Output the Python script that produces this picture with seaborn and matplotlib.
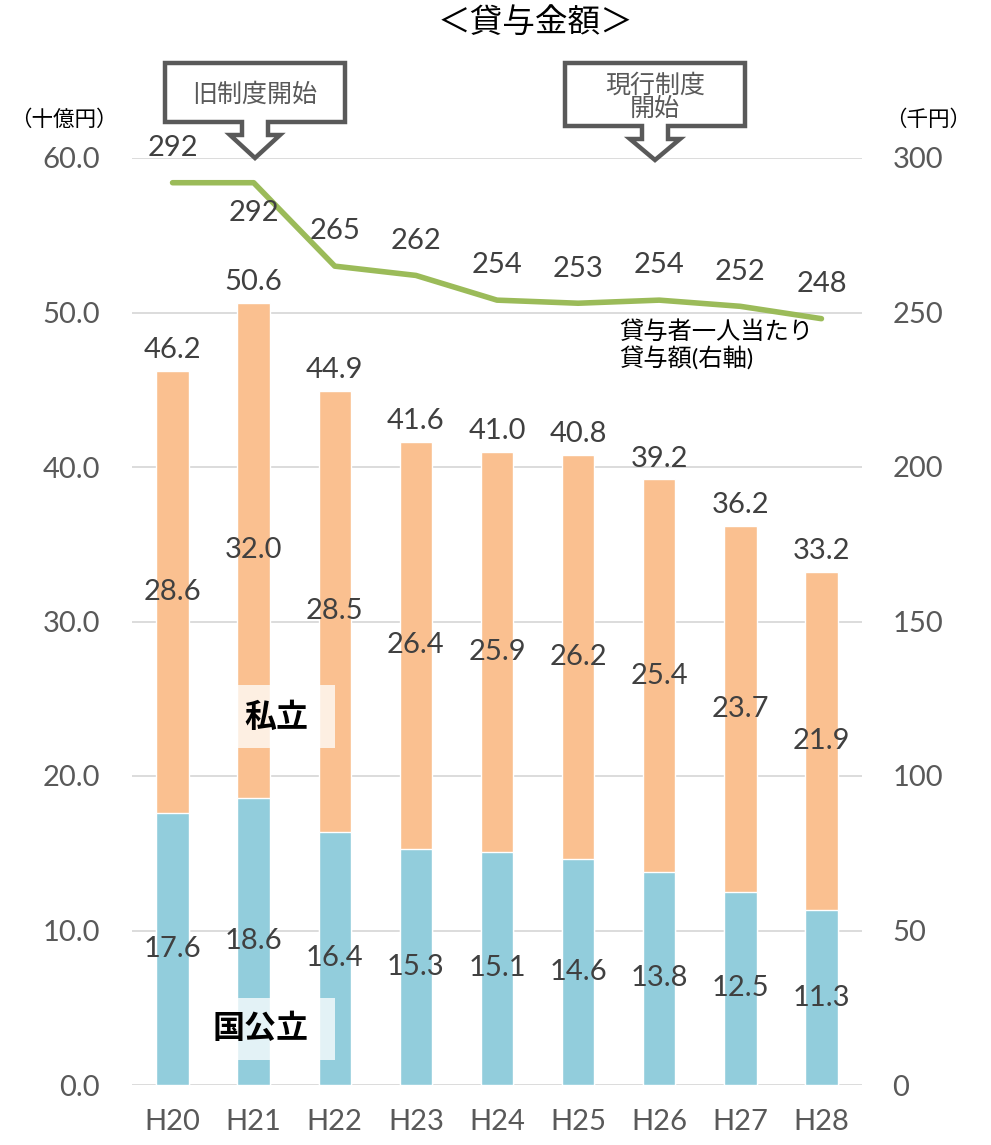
import numpy as np
import pandas as pd
import matplotlib.pyplot as plt
import seaborn as sns
from matplotlib.patches import Polygon, Rectangle

# ----------------------------------------------------------
# Data (billion yen / thousand yen)
# ----------------------------------------------------------
years = ["H20", "H21", "H22", "H23", "H24", "H25", "H26", "H27", "H28"]
national = [17.6, 18.6, 16.4, 15.3, 15.1, 14.6, 13.8, 12.5, 11.3]
private = [28.6, 32.0, 28.5, 26.4, 25.9, 26.2, 25.4, 23.7, 21.9]
totals = [46.2, 50.6, 44.9, 41.6, 41.0, 40.8, 39.2, 36.2, 33.2]
per_person = [292, 292, 265, 262, 254, 253, 254, 252, 248]

df = pd.DataFrame({"year": years, "national": national,
                   "private": private, "total": totals, "per_person": per_person})

BLUE = "#92CDDC"
PEACH = "#FAC090"
GREEN = "#9BBB59"
TXT = "#404040"
TICK = "#595959"
FS = 21

sns.set_theme(style="white")
plt.rcParams["font.family"] = ["Lato", "Noto Sans CJK JP", "DejaVu Sans"]

W, H = 991, 1145
fig = plt.figure(figsize=(W / 100, H / 100), dpi=100)
ax = fig.add_axes([132 / W, 60 / H, 730 / W, 927 / H])


def px(x, y):
    return (x / W, 1 - y / H)


# ----------------------------------------------------------
# Stacked bars: total (peach) first, national (blue) on top
# ----------------------------------------------------------
sns.barplot(data=df, x="year", y="total", color=PEACH, width=0.4,
            saturation=1, ax=ax, zorder=2)
sns.barplot(data=df, x="year", y="national", color=BLUE, width=0.4,
            saturation=1, ax=ax, zorder=2)

ax.set_xlim(-0.5, len(years) - 0.5)
ax.set_ylim(0, 60)
ax.set_yticks(np.arange(0, 61, 10))
ax.set_yticklabels([f"{v:.1f}" for v in np.arange(0, 61, 10)])
ax.grid(axis="y", color="#D9D9D9", linewidth=1.3, zorder=0)
ax.grid(axis="x", visible=False)
for s in ax.spines.values():
    s.set_visible(False)
ax.set_xlabel("")
ax.set_ylabel("")
ax.tick_params(axis="y", length=0, pad=23, labelsize=FS, labelcolor=TICK)
ax.tick_params(axis="x", length=0, pad=17, labelsize=FS, labelcolor=TICK)
ax.set_axisbelow(True)

for i in range(len(years)):
    ax.text(i, national[i] / 2, f"{national[i]:.1f}", ha="center", va="center",
            fontsize=FS, color=TXT, zorder=5)
    ax.text(i, national[i] + private[i] / 2, f"{private[i]:.1f}", ha="center",
            va="center", fontsize=FS, color=TXT, zorder=5)
    ax.annotate(f"{totals[i]:.1f}", (i, totals[i]), xytext=(0, 15),
                textcoords="offset points", ha="center", va="center",
                fontsize=FS, color=TXT, zorder=5)

# ----------------------------------------------------------
# Per-person amount on right axis
# ----------------------------------------------------------
ax2 = ax.twinx()
sns.lineplot(x=np.arange(len(years)), y=per_person, ax=ax2, color=GREEN,
             linewidth=4, zorder=4)
ax2.set_ylim(0, 300)
ax2.set_yticks(np.arange(0, 301, 50))
for s in ax2.spines.values():
    s.set_visible(False)
ax2.tick_params(axis="y", length=0, pad=22, labelsize=FS, labelcolor=TICK)
ax2.grid(False)
for i, v in enumerate(per_person):
    off = -22 if i == 1 else 25
    ax2.annotate(f"{v}", (i, v), xytext=(0, off), textcoords="offset points",
                 ha="center", va="center", fontsize=FS, color=TXT, zorder=6)

# ----------------------------------------------------------
# Labels, title, call-outs
# ----------------------------------------------------------
fig.text(*px(535, 22), "＜貸与金額＞", ha="center", va="center",
         fontsize=23.5, color="black")
fig.text(*px(64, 120), "（十億円）", ha="center", va="center",
         fontsize=15.5, color="black")
fig.text(*px(928, 120), "（千円）", ha="center", va="center",
         fontsize=15.5, color="black")

fig.text(*px(619, 345), "貸与者一人当たり\n貸与額(右軸)", ha="left",
         va="center", fontsize=17.5, color="black", linespacing=1.1)


def callout(x0, x1, y0, y1, tip_x, tip_y, text):
    sh, wing, neck = 13, 25, 13
    pts = [(x0, y0), (x1, y0), (x1, y1), (tip_x + sh, y1), (tip_x + sh, y1 + neck),
           (tip_x + wing, y1 + neck), (tip_x, tip_y), (tip_x - wing, y1 + neck),
           (tip_x - sh, y1 + neck), (tip_x - sh, y1), (x0, y1)]
    poly = Polygon([px(a, b) for a, b in pts], closed=True, transform=fig.transFigure,
                   facecolor="white", edgecolor=TICK, linewidth=3.2, zorder=10,
                   joinstyle="miter")
    fig.add_artist(poly)
    fig.text(*px((x0 + x1) / 2, (y0 + y1) / 2 + 2), text, ha="center", va="center",
             fontsize=18, color=TICK, zorder=11, linespacing=1.0)


callout(165, 345, 63, 122, 255, 158, "旧制度開始")
callout(565, 745, 63, 126, 655, 160, "現行制度\n開始")

for (x0, y0, x1, y1), label, tx, ty in [((238, 685, 335, 748), "私立", 276, 717),
                                         ((238, 998, 335, 1060), "国公立", 261, 1028)]:
    fig.add_artist(Rectangle(px(x0, y1), (x1 - x0) / W, (y1 - y0) / H,
                             transform=fig.transFigure, facecolor="white",
                             alpha=0.75, edgecolor="none", zorder=8))
    fig.text(*px(tx, ty), label, ha="center", va="center",
             fontsize=23, fontweight="bold", color="black", zorder=9)

fig.savefig("out.png", dpi=100)
